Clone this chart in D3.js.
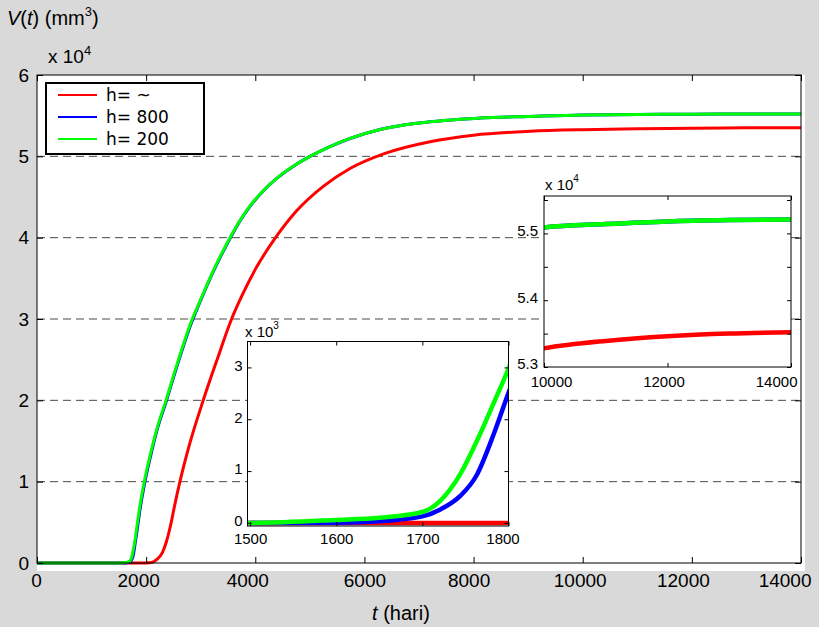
<!DOCTYPE html>
<html>
<head>
<meta charset="utf-8">
<script src="https://cdn.jsdelivr.net/npm/d3@7"></script>
<style>
  body { margin: 0; background: #d9d9d9; }
  svg { display: block; }
  text { font-family: "Liberation Sans", Arial, sans-serif; fill: #000; }
</style>
</head>
<body>
<div id="chart"></div>
<script>
// ── DATA (V in units of 10^4 mm^3, t in hari) ─────────
const T_RED = [0, 2000, 2100, 2192, 2300, 2375, 2450, 2520, 2619, 2800, 3046, 3300, 3566, 3751,
  4000, 4361, 4758, 5246, 5736, 6377, 7202, 8000, 9034, 10000, 11000, 12000, 13000, 14000];
const V_RED = [0, 0, 0.005, 0.04, 0.13, 0.27, 0.47, 0.7, 1.0, 1.47, 2.0, 2.5, 3.0, 3.28,
  3.61, 3.99, 4.33, 4.63, 4.85, 5.036, 5.18, 5.26, 5.308, 5.328, 5.339, 5.346, 5.35, 5.352];

const T_H = [0, 1500, 1600, 1650, 1700, 1721, 1744, 1763, 1783, 1800, 1827, 1888, 1966, 2083,
  2193, 2364, 2560, 2834, 2987, 3200, 3537, 3700, 3903, 4150, 4392, 4700, 5003, 5369, 5736,
  6286, 7000, 8118, 9000, 10000, 11000, 12000, 13000, 14000];
const V_GREEN = [0, 0, 0.0057, 0.01, 0.021, 0.043, 0.094, 0.157, 0.232, 0.298, 0.43, 0.71, 1.0, 1.35,
  1.64, 2.0, 2.43, 2.98, 3.22, 3.55, 4.0, 4.19, 4.39, 4.58, 4.73, 4.88, 5.0, 5.12, 5.22,
  5.33, 5.41, 5.47, 5.49, 5.509, 5.514, 5.518, 5.52, 5.521];
const V_BLUE = [0, 0, 0.0005, 0.003, 0.0125, 0.026, 0.052, 0.092, 0.172, 0.251, 0.37, 0.66, 0.96, 1.32,
  1.62, 1.98, 2.41, 2.96, 3.21, 3.54, 3.99, 4.185, 4.385, 4.577, 4.728, 4.879, 4.999, 5.119, 5.219,
  5.33, 5.41, 5.47, 5.49, 5.509, 5.514, 5.518, 5.52, 5.521];

const LEGEND = ['h= ~', 'h= 800', 'h= 200'];
const COLORS = ['#ff0000', '#0000ff', '#00ff00'];

const X_TICKS = [0, 2000, 4000, 6000, 8000, 10000, 12000, 14000];
const Y_TICKS = [0, 1, 2, 3, 4, 5, 6];
const GRID_Y = [1, 2, 3, 4, 5];

const IN1_X_TICKS = [1500, 1600, 1700, 1800];
const IN1_Y_TICKS = [0, 0.1, 0.2, 0.3];     // shown as x 10^3
const IN2_X_TICKS = [10000, 12000, 14000];
const IN2_Y_TICKS = [5.3, 5.4, 5.5];
const IN2_Y_MINOR = [5.35, 5.45, 5.55];

const SERIES = [
  { t: T_RED, v: V_RED, color: COLORS[0] },
  { t: T_H, v: V_BLUE, color: COLORS[1] },
  { t: T_H, v: V_GREEN, color: COLORS[2] }
];

// ── SETUP ─────────────────────────────────────
const W = 819, H = 627;
const svg = d3.select('#chart').append('svg')
  .attr('width', W).attr('height', H);

const defs = svg.append('defs');

// white backing of the axes
svg.append('rect')
  .attr('x', 37).attr('y', 75).attr('width', 768).attr('height', 496)
  .attr('fill', '#fff');

// ── AXES HELPER ───────────────────────────────
function drawFrame(g, xs, ys, o) {
  const [x0, x1] = xs.range();
  const [y0, y1] = ys.range();

  const styleAxis = sel => {
    sel.select('.domain').remove();
    sel.attr('font-size', o.fontSize)
      .attr('font-family', '"Liberation Sans", Arial, sans-serif');
    sel.selectAll('line').attr('stroke', '#000');
  };

  const bottom = g.append('g').attr('transform', `translate(0,${y0})`)
    .call(d3.axisBottom(xs).tickValues(o.xTicks).tickFormat(o.xFmt || d3.format('d'))
      .tickSizeInner(-o.tick).tickSizeOuter(0).tickPadding(o.xPad))
    .call(styleAxis);
  if (o.xShift) bottom.selectAll('text').attr('dx', (d, i) => o.xShift[i] || 0);
  if (o.lastEnd) {
    bottom.selectAll('text').filter((d, i, n) => i === n.length - 1)
      .attr('text-anchor', 'end');
  }

  g.append('g').attr('transform', `translate(0,${y1})`)
    .call(d3.axisTop(xs).tickValues(o.xTicks).tickFormat('')
      .tickSizeInner(-o.tick).tickSizeOuter(0))
    .call(styleAxis);

  const left = g.append('g').attr('transform', `translate(${x0},0)`)
    .call(d3.axisLeft(ys).tickValues(o.yTicks).tickFormat(o.yFmt)
      .tickSizeInner(-o.tick).tickSizeOuter(0).tickPadding(o.yPad))
    .call(styleAxis);
  if (o.yLift) left.selectAll('text').attr('y', -o.yLift);

  g.append('g').attr('transform', `translate(${x1},0)`)
    .call(d3.axisRight(ys).tickValues(o.yTicks).tickFormat('')
      .tickSizeInner(-o.tick).tickSizeOuter(0))
    .call(styleAxis);

  if (o.yMinor) {
    g.append('g').attr('transform', `translate(${x0},0)`)
      .call(d3.axisLeft(ys).tickValues(o.yMinor).tickFormat('').tickSizeInner(-o.tick).tickSizeOuter(0))
      .call(styleAxis);
    g.append('g').attr('transform', `translate(${x1},0)`)
      .call(d3.axisRight(ys).tickValues(o.yMinor).tickFormat('').tickSizeInner(-o.tick).tickSizeOuter(0))
      .call(styleAxis);
  }

  g.append('rect')
    .attr('x', x0).attr('y', y1)
    .attr('width', x1 - x0).attr('height', y0 - y1)
    .attr('fill', 'none').attr('stroke', '#000').attr('stroke-width', 1);
}

function drawLines(g, xs, ys, width, clipId) {
  const line = d3.line()
    .x(d => xs(d[0]))
    .y(d => ys(d[1]))
    .curve(d3.curveMonotoneX);

  const lg = g.append('g');
  if (clipId) lg.attr('clip-path', `url(#${clipId})`);

  SERIES.forEach(s => {
    lg.append('path')
      .datum(s.t.map((t, i) => [t, s.v[i]]))
      .attr('d', line)
      .attr('fill', 'none')
      .attr('stroke', s.color)
      .attr('stroke-width', width)
      .attr('stroke-linejoin', 'round');
  });
}

function exponentLabel(g, x, y, base, exp, size, expSize, lift) {
  const t = g.append('text').attr('x', x).attr('y', y).attr('font-size', size);
  t.append('tspan').text(base);
  t.append('tspan').attr('font-size', expSize).attr('dy', -lift).text(exp);
}

// ── MAIN PLOT ─────────────────────────────────
const x = d3.scaleLinear().domain([0, 14000]).range([37, 801]);
const y = d3.scaleLinear().domain([0, 6]).range([563, 75]);

const main = svg.append('g');

main.append('g').selectAll('line')
  .data(GRID_Y)
  .join('line')
  .attr('x1', x(0)).attr('x2', x(14000))
  .attr('y1', d => y(d)).attr('y2', d => y(d))
  .attr('stroke', '#4a4a4a')
  .attr('stroke-width', 1)
  .attr('stroke-dasharray', '8,5');

drawLines(main, x, y, 3);

drawFrame(main, x, y, {
  xTicks: X_TICKS, yTicks: Y_TICKS, yFmt: d3.format('d'),
  tick: 6, fontSize: 19, xPad: 11, yPad: 8,
  xShift: [-1, -8, -8, 0, -5, -3, -9, 10], lastEnd: true
});

// axis titles
const yTitle = svg.append('text').attr('x', 7).attr('y', 25).attr('font-size', 20);
yTitle.append('tspan').attr('font-style', 'italic').text('V');
yTitle.append('tspan').text('(');
yTitle.append('tspan').attr('font-style', 'italic').text('t');
yTitle.append('tspan').text(') (mm');
yTitle.append('tspan').attr('font-size', 13).attr('dy', -9).text('3');
yTitle.append('tspan').attr('dy', 9).text(')');

exponentLabel(svg, 48, 63, 'x 10', '4', 19, 13, 8);

const xTitle = svg.append('text')
  .attr('x', 401).attr('y', 620)
  .attr('font-size', 20)
  .attr('text-anchor', 'middle');
xTitle.append('tspan').attr('font-style', 'italic').text('t');
xTitle.append('tspan').text(' (hari)');

// ── LEGEND ────────────────────────────────────
const leg = svg.append('g');
leg.append('rect')
  .attr('x', 46).attr('y', 83).attr('width', 158).attr('height', 71)
  .attr('fill', '#fff').attr('stroke', '#000').attr('stroke-width', 2);

LEGEND.forEach((name, i) => {
  const ly = 95 + i * 22;
  leg.append('line')
    .attr('x1', 58).attr('x2', 97).attr('y1', ly).attr('y2', ly)
    .attr('stroke', COLORS[i]).attr('stroke-width', 2);
  leg.append('text')
    .attr('x', 106).attr('y', ly + 6)
    .attr('font-size', 17)
    .style('font-family', '"DejaVu Sans", sans-serif')
    .text(name);
});

// ── INSET 1 (early growth, x 10^3) ────────────
const x1 = d3.scaleLinear().domain([1497, 1800]).range([247.5, 508.5]);
const y1 = d3.scaleLinear().domain([-0.006, 0.35]).range([526, 341.5]);

const in1 = svg.append('g');
in1.append('rect')
  .attr('x', 247.5).attr('y', 341.5).attr('width', 261).attr('height', 184.5)
  .attr('fill', '#fff');

defs.append('clipPath').attr('id', 'clip-in1')
  .append('rect').attr('x', 247.5).attr('y', 330).attr('width', 261).attr('height', 205);

drawLines(in1, x1, y1, 4.5, 'clip-in1');

drawFrame(in1, x1, y1, {
  xTicks: IN1_X_TICKS, yTicks: IN1_Y_TICKS, yFmt: d => Math.round(d * 10),
  tick: 4, fontSize: 15, xPad: 7, yPad: 5, yLift: 2,
  xShift: [0, 0, 0, -6]
});

exponentLabel(svg, 245, 337, 'x 10', '3', 15, 10, 8);

// ── INSET 2 (plateau, x 10^4) ─────────────────
const x2 = d3.scaleLinear().domain([10000, 14000]).range([544, 791]);
const y2 = d3.scaleLinear().domain([5.3, 5.556]).range([367, 196]);

const in2 = svg.append('g');
in2.append('rect')
  .attr('x', 544).attr('y', 196).attr('width', 247).attr('height', 171)
  .attr('fill', '#fff');

defs.append('clipPath').attr('id', 'clip-in2')
  .append('rect').attr('x', 544).attr('y', 190).attr('width', 247).attr('height', 182);

drawLines(in2, x2, y2, 4.5, 'clip-in2');

drawFrame(in2, x2, y2, {
  xTicks: IN2_X_TICKS, yTicks: IN2_Y_TICKS, yMinor: IN2_Y_MINOR, yFmt: d3.format('.1f'),
  tick: 4, fontSize: 15, xPad: 9, yPad: 6, yLift: 3,
  xShift: [7, -4, 6], lastEnd: true
});

exponentLabel(svg, 545, 190, 'x 10', '4', 15, 10, 8);
</script>
</body>
</html>
